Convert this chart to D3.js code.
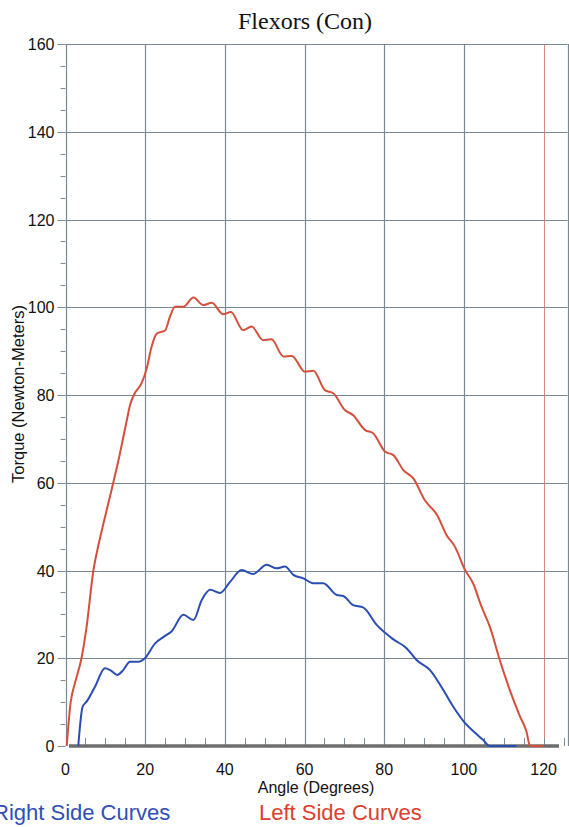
<!DOCTYPE html>
<html><head><meta charset="utf-8">
<script src="https://cdn.jsdelivr.net/npm/d3@7"></script>
<style>body{margin:0;background:#fff}svg{display:block}</style>
</head><body>
<svg id="c" width="569" height="827"></svg>
<script>
const title = "Flexors (Con)";
const xLabel = "Angle (Degrees)";
const yLabel = "Torque (Newton-Meters)";
const xTicks = [0, 20, 40, 60, 80, 100, 120];
const yTicks = [0, 20, 40, 60, 80, 100, 120, 140, 160];
const legendLabels = ["Right Side Curves", "Left Side Curves"];

const leftAngle = [0.3,1.3,2.4,4.1,5.3,7.0,8.0,9.6,11.2,13.5,15.4,16.2,17.4,19.1,20.4,21.6,22.9,25,26.2,27.5,29.6,32.1,34.6,36.7,39.6,41.5,44.6,46.7,49.6,51.7,54.7,56.8,60.1,62.2,65.1,67.2,70.1,72.2,75.2,77.2,80.2,82.3,84.8,87.3,90.2,93.3,95.7,97.7,100.3,102.3,104.4,106.5,109,111.5,114.1,115.7,116.6,120];
const leftTorque = [0,10,14.4,20.4,27.2,40,44.7,51,57,66,74.3,77.7,80.4,82.7,86.1,91,94,94.7,97.8,100.1,100.1,102.2,100.5,101,98.4,98.9,94.8,95.6,92.5,92.7,88.8,88.9,85.3,85.5,81.1,80.4,76.6,75.4,72,71.3,67.1,66.3,62.9,61,56,52.6,48,45.5,40.1,37.1,31.8,27.2,19.6,12.8,6.7,3.3,0,0];

const rightAngle = [3.2,4.3,5.3,7.4,9.9,11.2,13,14.5,16.2,18.3,19.9,22.5,25,26.6,29.6,32.1,34.2,36.3,38.8,41.3,44.2,47.1,50.5,53,55.1,57.2,59.7,62.2,64.7,68.1,69.7,72.2,74.7,78.1,82.3,85.6,88.1,91.5,94.8,97.3,100.3,102.8,104.8,106.5,113.2];
const rightTorque = [0,9,10.1,13.5,17.7,17.3,16.2,17.3,19.2,19.2,20,23.4,25.1,26.1,29.9,28.7,33.3,35.6,34.9,37.4,40.1,39.2,41.3,40.5,40.9,39,38.2,37.1,37.1,34.4,34.2,32.1,31.6,27.6,24.3,22.3,19.6,17.3,12.8,9,5.2,3,1.4,0,0];

const svg = d3.select("#c");
const x = d3.scaleLinear().domain([0, 126]).range([65.5, 567.5]);
const y = d3.scaleLinear().domain([0, 160]).range([746, 44]);
const px = v => Math.round(v) + 0.5;

const gridColor = "#7a8893";
const font = "Liberation Sans, Arial, sans-serif";

// grid
const g = svg.append("g");
g.selectAll("line.v").data([20,40,60,80,100,126]).join("line")
  .attr("x1", d => px(x(d))).attr("x2", d => px(x(d)))
  .attr("y1", y(160)).attr("y2", y(0))
  .attr("stroke", gridColor).attr("stroke-width", 1.2);
g.append("line")
  .attr("x1", px(x(120))).attr("x2", px(x(120)))
  .attr("y1", y(160)).attr("y2", y(0))
  .attr("stroke", "#d98a7a").attr("stroke-width", 1);
g.selectAll("line.h").data([20,40,60,80,100,120,140,160]).join("line")
  .attr("x1", x(0)).attr("x2", x(126))
  .attr("y1", d => px(y(d))).attr("y2", d => px(y(d)))
  .attr("stroke", gridColor).attr("stroke-width", 1.2);

// y axis
const yAxis = svg.append("g");
yAxis.append("line").attr("x1", px(x(0))).attr("x2", px(x(0))).attr("y1", y(160)).attr("y2", y(0))
  .attr("stroke", gridColor).attr("stroke-width", 1.2);
yAxis.selectAll("line.minor").data(d3.range(0, 161, 5)).join("line")
  .attr("x1", d => x(0) - (d % 20 === 0 ? 8 : 5)).attr("x2", x(0))
  .attr("y1", d => px(y(d))).attr("y2", d => px(y(d)))
  .attr("stroke", "#7b8c98").attr("stroke-width", 1);
yAxis.selectAll("text").data(yTicks).join("text")
  .attr("x", x(0) - 11).attr("y", d => y(d) + 6)
  .attr("text-anchor", "end")
  .attr("font-family", font).attr("font-size", 16)
  .attr("fill", "#111").text(d => d);

// x axis
const xAxis = svg.append("g");
xAxis.selectAll("line").data(d3.range(5, 126, 5)).join("line")
  .attr("x1", d => px(x(d))).attr("x2", d => px(x(d)))
  .attr("y1", y(0)).attr("y2", y(0) - 8)
  .attr("stroke", "#7b8c98").attr("stroke-width", 1);
xAxis.append("line").attr("x1", 69).attr("x2", 559).attr("y1", y(0)).attr("y2", y(0))
  .attr("stroke", "#6e6e6e").attr("stroke-width", 3.5);
xAxis.selectAll("text").data(xTicks).join("text")
  .attr("x", d => x(d)).attr("y", 775)
  .attr("text-anchor", "middle")
  .attr("font-family", font).attr("font-size", 16)
  .attr("fill", "#111").text(d => d);

// curves
const line = d3.line().curve(d3.curveMonotoneX);
svg.append("path")
  .attr("d", line(leftAngle.map((a, i) => [x(a), y(leftTorque[i])])))
  .attr("fill", "none").attr("stroke", "#d5503c").attr("stroke-width", 2);
svg.append("path")
  .attr("d", line(rightAngle.map((a, i) => [x(a), y(rightTorque[i])])))
  .attr("fill", "none").attr("stroke", "#2a4db3").attr("stroke-width", 2);

// titles
svg.append("text").attr("x", 305).attr("y", 29).attr("text-anchor", "middle")
  .attr("font-family", "Liberation Serif, Times New Roman, serif").attr("font-size", 24)
  .attr("fill", "#111").text(title);
svg.append("text").attr("x", 316).attr("y", 793).attr("text-anchor", "middle")
  .attr("font-family", font).attr("font-size", 16)
  .attr("fill", "#111").text(xLabel);
svg.append("text").attr("transform", "translate(24,394) rotate(-90)").attr("text-anchor", "middle")
  .attr("font-family", font).attr("font-size", 16.5)
  .attr("fill", "#111").text(yLabel);

// legend
svg.append("text").attr("x", -7).attr("y", 820)
  .attr("font-family", font).attr("font-size", 22)
  .attr("fill", "#2f4fb5").text(legendLabels[0]);
svg.append("text").attr("x", 259).attr("y", 820)
  .attr("font-family", font).attr("font-size", 22)
  .attr("fill", "#d9412e").text(legendLabels[1]);
</script>
</body></html>
